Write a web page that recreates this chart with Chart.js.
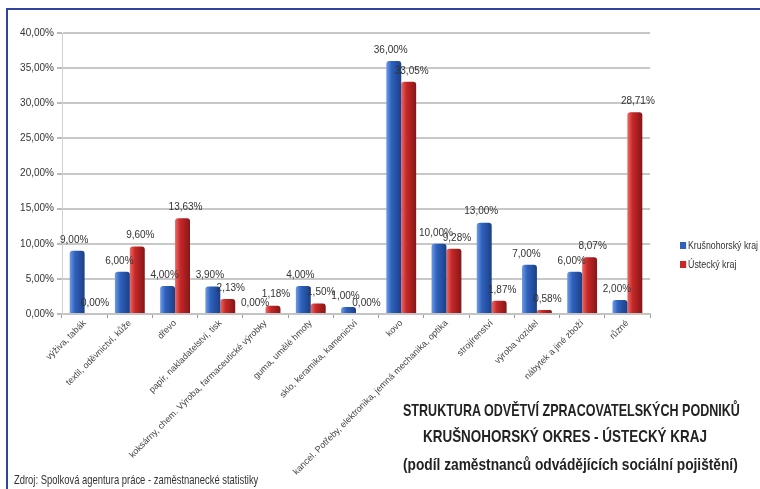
<!DOCTYPE html>
<html>
<head>
<meta charset="utf-8">
<script src="https://cdn.jsdelivr.net/npm/chart.js@4.4.0/dist/chart.umd.min.js"></script>
<style>
  body { margin: 0; background: #fff; }
  #wrap { position: relative; width: 760px; height: 489px; overflow: hidden; }
  #frame { position: absolute; left: 6px; top: 8px; width: 800px; height: 600px; border: 2px solid #33449e; box-sizing: border-box; }
  canvas { position: absolute; left: 0; top: 0; }
  .fit { font-family: "Liberation Sans", Arial, sans-serif; color: #222; position: absolute; white-space: nowrap; transform-origin: 0 50%; }
  .t { font-weight: bold; font-size: 17px; line-height: 20px; }
  #source { font-size: 13px; line-height: 15px; color: #333; }
  .lg { font-size: 10px; line-height: 12px; color: #333; }
  .lg span { display: inline-block; width: 7px; height: 7px; margin-right: 2px; }
</style>
</head>
<body>
<div id="wrap">
  <div id="frame"></div>
  <canvas id="myChart" width="760" height="489"></canvas>
  <div class="fit t" data-x="403" data-y="411" data-w="337">STRUKTURA ODVĚTVÍ ZPRACOVATELSKÝCH PODNIKŮ</div>
  <div class="fit t" data-x="423" data-y="437" data-w="284">KRUŠNOHORSKÝ OKRES - ÚSTECKÝ KRAJ</div>
  <div class="fit t" data-x="403" data-y="465" data-w="335">(podíl zaměstnanců odvádějících sociální pojištění)</div>
  <div class="fit" id="source" data-x="14" data-y="479" data-w="244">Zdroj: Spolková agentura práce - zaměstnanecké statistiky</div>
</div>
<script>
document.addEventListener("DOMContentLoaded", function () {
  const ctx = document.getElementById('myChart').getContext('2d');

  // odvětví (kategorie osy x)
  const odvetvi = [
    'výživa, tabák',
    'textil, oděvnictví, kůže',
    'dřevo',
    'papír, nakladatelství, tisk',
    'koksárny, chem. Výroba, farmaceutické výrobky',
    'guma, umělé hmoty',
    'sklo, keramika, kamenictví',
    'kovo',
    'kancel. Potřeby, elektronika, jemná mechanika, optika',
    'strojírenství',
    'výroba vozidel',
    'nábytek a jiné zboží',
    'různé'
  ];
  const krusnohorsky = [9, 6, 4, 3.9, 0, 4, 1, 36, 10, 13, 7, 6, 2];
  const ustecky = [0, 9.6, 13.63, 2.13, 1.18, 1.5, 0, 33.05, 9.28, 1.87, 0.58, 8.07, 28.71];
  const nazvyRad = ['Krušnohorský kraj', 'Ústecký kraj'];
  const osaY = [0, 5, 10, 15, 20, 25, 30, 35, 40];

  const barvy = [
    { base: '#2f62bd', light: '#6f9be6', dark: '#1b3f86' },
    { base: '#c62828', light: '#ec6a63', dark: '#861616' }
  ];

  const fmt = v => v.toFixed(2).replace('.', ',') + '%';

  // legenda vpravo
  const wrap = document.getElementById('wrap');
  const legW = [78, 56];
  nazvyRad.forEach((n, i) => {
    const d = document.createElement('div');
    d.className = 'fit lg';
    d.dataset.x = 680; d.dataset.y = 246 + i * 19; d.dataset.w = legW[i];
    d.innerHTML = '<span style="background:' + barvy[i].base + '"></span>' + n;
    wrap.appendChild(d);
  });

  // úzké písmo neni, tak se text srovná na šířku z předlohy
  document.querySelectorAll('.fit').forEach(el => {
    const w = el.offsetWidth, h = el.offsetHeight;
    el.style.left = el.dataset.x + 'px';
    el.style.top = (el.dataset.y - h / 2) + 'px';
    el.style.transform = 'scaleX(' + (el.dataset.w / w) + ')';
  });

  // přechod přes šířku sloupce (jednoduchý 3D vzhled)
  function vypln(i) {
    return function (c) {
      const ch = c.chart;
      const x = ch.scales && ch.scales.x;
      if (!ch.chartArea || !x || x.getPixelForValue(0) === undefined) return barvy[i].base;
      const catW = (x.right - x.left) / odvetvi.length;
      const bw = catW * 0.66 / 2;
      const cx = x.getPixelForValue(c.dataIndex) + (i - 0.5) * bw;
      if (!isFinite(cx)) return barvy[i].base;
      const g = ch.ctx.createLinearGradient(cx - bw / 2, 0, cx + bw / 2, 0);
      g.addColorStop(0, barvy[i].light);
      g.addColorStop(0.35, barvy[i].base);
      g.addColorStop(1, barvy[i].dark);
      return g;
    };
  }

  const popisky = {
    id: 'popisky',
    afterDatasetsDraw(chart) {
      const c = chart.ctx;
      c.save();
      c.font = '10px "Liberation Sans", Arial, sans-serif';
      c.fillStyle = '#333';
      c.textAlign = 'center';
      c.textBaseline = 'bottom';
      chart.data.datasets.forEach((ds, di) => {
        chart.getDatasetMeta(di).data.forEach((el, i) => {
          c.fillText(fmt(ds.data[i]), el.x + (di === 0 ? -3 : 3), el.y - 6);
        });
      });
      c.restore();
    }
  };

  new Chart(ctx, {
    type: 'bar',
    data: {
      labels: odvetvi,
      datasets: [
        { label: nazvyRad[0], data: krusnohorsky, backgroundColor: vypln(0) },
        { label: nazvyRad[1], data: ustecky, backgroundColor: vypln(1) }
      ]
    },
    plugins: [popisky],
    options: {
      responsive: false,
      animation: false,
      layout: { padding: { left: 10, right: 110, top: 33, bottom: 0 } },
      datasets: {
        bar: {
          categoryPercentage: 0.66,
          barPercentage: 1.0,
          borderRadius: { topLeft: 3, topRight: 3 },
          borderSkipped: 'bottom'
        }
      },
      plugins: {
        legend: { display: false },
        tooltip: { enabled: false }
      },
      scales: {
        x: {
          afterFit(s) { s.height = 175; },
          grid: { drawOnChartArea: false, drawTicks: true, tickLength: 4, color: '#9a9a9a' },
          border: { color: '#c4c4c4', width: 2 },
          ticks: {
            minRotation: 45, maxRotation: 45, autoSkip: false, padding: 0,
            color: '#444', font: { family: '"Liberation Sans", Arial, sans-serif', size: 9 }
          }
        },
        y: {
          min: 0, max: 40,
          afterFit(s) { s.width = 52; },
          afterBuildTicks(s) { s.ticks = osaY.map(v => ({ value: v })); },
          grid: { color: '#c8c8c8', lineWidth: 2, tickLength: 5, tickColor: '#777', tickWidth: 1 },
          border: { color: '#d0d0d0', width: 1 },
          ticks: {
            padding: 3,
            color: '#333',
            font: { family: '"Liberation Sans", Arial, sans-serif', size: 10 },
            callback: v => fmt(v)
          }
        }
      }
    }
  });
});
</script>
</body>
</html>
